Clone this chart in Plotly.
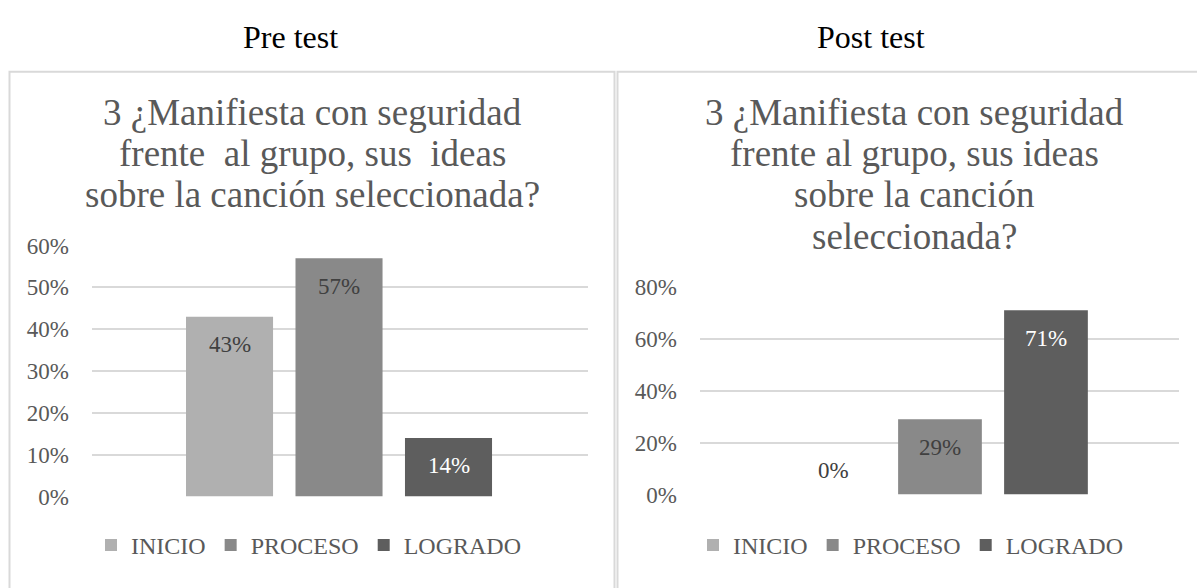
import plotly.graph_objects as go

# ---------------- data ----------------
categories = ["INICIO", "PROCESO", "LOGRADO"]
pre_values = [0.43, 0.57, 0.14]
post_values = [0.00, 0.29, 0.71]
pre_label_text = ["43%", "57%", "14%"]
post_label_text = ["0%", "29%", "71%"]
panel_headings = ["Pre test", "Post test"]
pre_title_lines = ["3 ¿Manifiesta con seguridad",
                   "frente\u00a0 al grupo, sus\u00a0 ideas",
                   "sobre la canción seleccionada?"]
post_title_lines = ["3 ¿Manifiesta con seguridad",
                    "frente al grupo, sus ideas",
                    "sobre la canción",
                    "seleccionada?"]

# ---------------- styles ----------------
W, H = 1197, 588
FONT = "Liberation Serif, Times New Roman, serif"
bar_colors = ["#b0b0b0", "#898989", "#5e5e5e"]
label_colors = ["#404040", "#404040", "#ffffff"]
TXT = "#595959"
GRID = "#d9d9d9"


def px_x(p):
    return p / W


def px_y(p):
    return 1 - p / H


fig = go.Figure()

for i, cat in enumerate(categories):
    fig.add_trace(go.Bar(x=[cat], y=[pre_values[i]], name=cat, marker_color=bar_colors[i],
                         marker_line_width=0, width=0.795, xaxis="x", yaxis="y",
                         legend="legend", hoverinfo="skip"))
for i, cat in enumerate(categories):
    fig.add_trace(go.Bar(x=[cat], y=[post_values[i]], name=cat, marker_color=bar_colors[i],
                         marker_line_width=0, width=0.79, xaxis="x2", yaxis="y2",
                         legend="legend2", hoverinfo="skip"))

annotations = []
# data labels
for i, cat in enumerate(categories):
    v = pre_values[i]
    annotations.append(dict(x=cat, y=v, xref="x", yref="y", text=pre_label_text[i],
                            showarrow=False, yshift=-28 if v > 0 else 24,
                            font=dict(family=FONT, size=23,
                                      color=label_colors[i] if v > 0 else "#404040")))
for i, cat in enumerate(categories):
    v = post_values[i]
    annotations.append(dict(x=cat, y=v, xref="x2", yref="y2", text=post_label_text[i],
                            showarrow=False, yshift=-28 if v > 0 else 24,
                            font=dict(family=FONT, size=23,
                                      color=label_colors[i] if v > 0 else "#404040")))

# headings
for txt, cx in zip(panel_headings, [290, 871]):
    annotations.append(dict(x=px_x(cx), y=px_y(26), xref="paper", yref="paper", text=txt,
                            showarrow=False, xanchor="center", yanchor="middle",
                            font=dict(family=FONT, size=32, color="#000000")))

# chart titles (one annotation per line)
baselines = [117, 160, 203, 246]
for lines, cx in [(pre_title_lines, 312), (post_title_lines, 914)]:
    for j, line in enumerate(lines):
        annotations.append(dict(x=px_x(cx), y=px_y(baselines[j] - 12), xref="paper", yref="paper",
                                text=line, showarrow=False, xanchor="center", yanchor="middle",
                                font=dict(family=FONT, size=37, color=TXT)))

shapes = [
    dict(type="rect", xref="paper", yref="paper", x0=px_x(9.5), x1=px_x(614.5),
         y0=-0.1, y1=px_y(62.5), line=dict(color=GRID, width=2), fillcolor="rgba(0,0,0,0)"),
    dict(type="rect", xref="paper", yref="paper", x0=px_x(617.5), x1=px_x(1211),
         y0=-0.1, y1=px_y(62.5), line=dict(color=GRID, width=2), fillcolor="rgba(0,0,0,0)"),
]

axis_y_common = dict(tickformat=".0%", showgrid=True, gridcolor=GRID, gridwidth=2,
                     zeroline=False, showline=False, ticks="", ticklabelstandoff=22,
                     tickfont=dict(family=FONT, size=23, color=TXT), fixedrange=True)
axis_x_common = dict(showticklabels=False, showgrid=False, zeroline=False, showline=False,
                     ticks="", type="category", fixedrange=True,
                     categoryorder="array", categoryarray=categories)

legend_common = dict(orientation="h", xanchor="center", yanchor="middle",
                     font=dict(family=FONT, size=24, color=TXT), bgcolor="rgba(0,0,0,0)",
                     itemwidth=30, itemclick=False, itemdoubleclick=False)

fig.update_layout(
    width=W, height=H, margin=dict(l=0, r=0, t=0, b=0),
    paper_bgcolor="white", plot_bgcolor="white",
    barmode="relative",
    xaxis=dict(domain=[px_x(92), px_x(588)], range=[-1.256, 3.274], **axis_x_common),
    yaxis=dict(domain=[1 - 506 / H, 1 - 244 / H], range=[0, 0.6], dtick=0.1, anchor="x",
               **axis_y_common),
    xaxis2=dict(domain=[px_x(700), px_x(1179)], range=[-1.264, 3.255], anchor="y2",
                **axis_x_common),
    yaxis2=dict(domain=[1 - 504 / H, 1 - 287 / H], range=[0, 0.8], dtick=0.2, anchor="x2",
                **axis_y_common),
    legend=dict(x=px_x(309), y=px_y(557), **legend_common),
    legend2=dict(x=px_x(911), y=px_y(557), **legend_common),
    annotations=annotations,
    shapes=shapes,
    showlegend=True,
)

fig.write_html("out.html", config={"displayModeBar": False},
               post_script="document.body.style.margin='0';document.body.style.overflow='hidden';")
